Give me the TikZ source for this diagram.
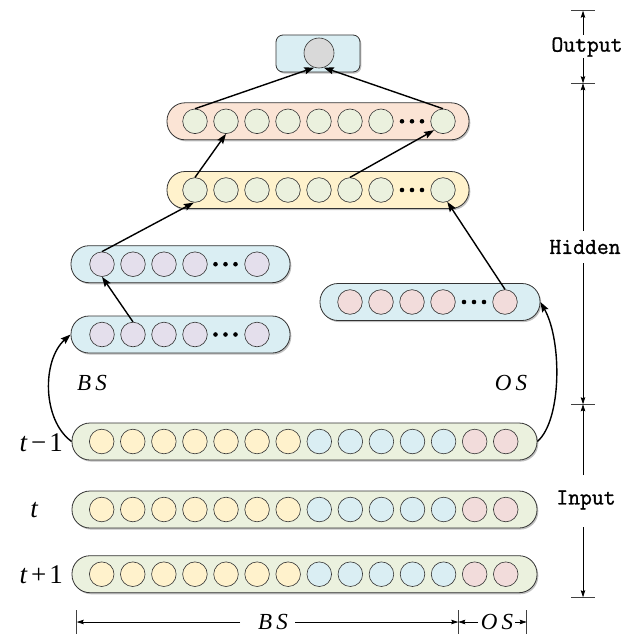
\documentclass[tikz,border=0pt]{standalone}
\usepackage{fontspec}
\setmainfont{Liberation Serif}
\setmonofont[FakeBold=1.2]{Latin Modern Mono}
\usetikzlibrary{arrows.meta,shadows,calc}
\definecolor{strokec}{HTML}{333333}
\definecolor{cgreen}{HTML}{EBF1DE}
\definecolor{cyellow}{HTML}{FFF2CC}
\definecolor{cblue}{HTML}{DAEEF3}
\definecolor{cpink}{HTML}{F2DCDB}
\definecolor{cpeach}{HTML}{FBE4D5}
\definecolor{clav}{HTML}{E4DFEC}
\definecolor{cgray}{HTML}{D9D9D9}
\begin{document}
\begin{tikzpicture}[x=1pt,y=-1pt,
  pill/.style={draw=strokec, line width=0.8pt, rounded corners=18pt, minimum height=37pt, inner sep=0pt,
    drop shadow={shadow xshift=1.3pt, shadow yshift=-1.6pt, opacity=0.35, fill=black!70}},
  cir/.style={circle, draw=strokec, line width=0.6pt, minimum size=24.6pt, inner sep=0pt},
  arr/.style={-{Stealth[length=10pt,width=7pt,inset=1.5pt]}, line width=1.4pt},
  dimarr/.style={-{Stealth[length=7pt,width=4.5pt,inset=1pt]}, line width=0.7pt},
  tick/.style={line width=0.8pt, draw=black!75},
  lay/.style={font=\ttfamily\fontsize{23}{25}\selectfont, inner sep=0pt},
  itl/.style={font=\itshape\fontsize{23}{25}\selectfont, inner sep=0pt},
  tl/.style={font=\fontsize{27}{30}\selectfont, inner sep=0pt}
]
\useasboundingbox (0,0) rectangle (629,634);

% ---------- input rows ----------
\foreach \r/\yy in {1/441.5, 2/509.5, 3/574.2} {
  \node[pill, fill=cgreen, minimum width=465pt] (row\r) at (304.5,\yy) {};
  \foreach \i in {1,...,14} {
    \ifnum\i<8 \def\cc{cyellow}\else\ifnum\i<13 \def\cc{cblue}\else\def\cc{cpink}\fi\fi
    \pgfmathsetmacro\xx{101.7+31.08*(\i-1)}
    \node[cir, fill=\cc] (r\r-\i) at (\xx,\yy) {};
  }
}
\node[tl, anchor=east] (lt1) at (63,443) {{\itshape t}\kern4pt−\kern3pt1};
\node[tl] (lt2) at (34,510) {{\itshape t}};
\node[tl, anchor=east] (lt3) at (63,575) {{\itshape t}\kern4pt+\kern3pt1};

% ---------- BS layers ----------
\foreach \nm/\yy in {bsa/264.2, bsb/334.5} {
  \node[pill, fill=cblue, minimum width=219pt] (\nm) at (180.5,\yy) {};
  \foreach \i/\xx in {1/102, 2/133, 3/164, 4/195, 5/257} {
    \node[cir, fill=clav] (\nm-\i) at (\xx,\yy) {};
  }
  \foreach \dx in {215.5,225.5,235.5} \fill (\dx,\yy) circle (2.3);
}

% ---------- OS layer ----------
\node[pill, fill=cblue, minimum width=220pt] (os) at (430,302) {};
\foreach \i/\xx in {1/350, 2/381, 3/412, 4/443, 5/505} {
  \node[cir, fill=cpink] (os-\i) at (\xx,302) {};
}
\foreach \dx in {464,474,484} \fill (\dx,302) circle (2.3);

% ---------- hidden layers ----------
\foreach \nm/\yy/\bc in {ha/190/cyellow, hb/121.3/cpeach} {
  \node[pill, fill=\bc, minimum width=302pt] (\nm) at (318,\yy) {};
  \foreach \i in {1,...,7} {
    \pgfmathsetmacro\xx{195+31*(\i-1)}
    \node[cir, fill=cgreen] (\nm-\i) at (\xx,\yy) {};
  }
  \node[cir, fill=cgreen] (\nm-8) at (443,\yy) {};
  \foreach \dx in {402,412,422} \fill (\dx,\yy) circle (2.3);
}

% ---------- output ----------
\node[draw=strokec, line width=0.8pt, rounded corners=7pt, fill=cblue, minimum width=84pt, minimum height=37pt,
  drop shadow={shadow xshift=1.3pt, shadow yshift=-1.6pt, opacity=0.35, fill=black!70}] (outbox) at (318,53.5) {};
\node[cir, fill=cgray, minimum size=30pt] (outc) at (319,53) {};

% ---------- connectors ----------
\draw[arr] (hb-1.north) -- (outc.252);
\draw[arr] (hb-8.north) -- (outc.288);
\draw[arr] (ha-1.north) -- (hb-2.south);
\draw[arr] (ha-6.north) -- (hb-8.225);
\draw[arr] (bsa-1.north) -- (ha-1.265);
\draw[arr] (bsb-2.north) -- (bsa-1.south);
\draw[arr] (os-5.north) -- (ha-8.290);
\draw[arr] (row1.west) .. controls (42,420) and (42,360) .. (bsb.west);
\draw[arr] (row1.east) .. controls (562,420) and (562,340) .. (os.east);

\node[itl] (lbs) at (92,383) {B\kern4pt S};
\node[itl] (los) at (511,383) {O\kern4pt S};

% ---------- right dimension ----------
\coordinate (t0) at (583,10.7);
\coordinate (t1) at (583,83.3);
\coordinate (t2) at (583,404.3);
\coordinate (t3) at (583,597.3);
\foreach \t in {t0,t1,t2,t3} \draw[tick] ($(\t)+(-12,0)$) -- ($(\t)+(12,0)$);
\node[lay] (lout) at (587,47) {Output};
\node[lay] (lhid) at (585,247) {Hidden};
\node[lay] (linp) at (586,500) {Input};
\coordinate (o1) at (583,35);  \coordinate (o2) at (583,58);
\coordinate (h1) at (583,231); \coordinate (h2) at (583,263);
\coordinate (i1) at (583,475); \coordinate (i2) at (583,527);
\draw[dimarr] (o1) -- (t0);
\draw[dimarr] (o2) -- (t1);
\draw[dimarr] (h1) -- (t1);
\draw[dimarr] (h2) -- (t2);
\draw[dimarr] (i1) -- (t2);
\draw[dimarr] (i2) -- (t3);

% ---------- bottom dimension ----------
\coordinate (b0) at (76.7,622);
\coordinate (b1) at (458.3,622);
\coordinate (b2) at (526.7,622);
\foreach \b in {b0,b1,b2} \draw[tick] ($(\b)+(0,-12)$) -- ($(\b)+(0,12)$);
\node[itl] (lbs2) at (273,622) {B\kern4pt S};
\node[itl] (los2) at (497,622) {O\kern4pt S};
\coordinate (s1) at (240,622); \coordinate (s2) at (295,622);
\coordinate (s3) at (478,622); \coordinate (s4) at (515,622);
\draw[dimarr] (s1) -- (b0);
\draw[dimarr] (s2) -- (b1);
\draw[dimarr] (s3) -- (b1);
\draw[dimarr] (s4) -- (b2);
\end{tikzpicture}
\end{document}
